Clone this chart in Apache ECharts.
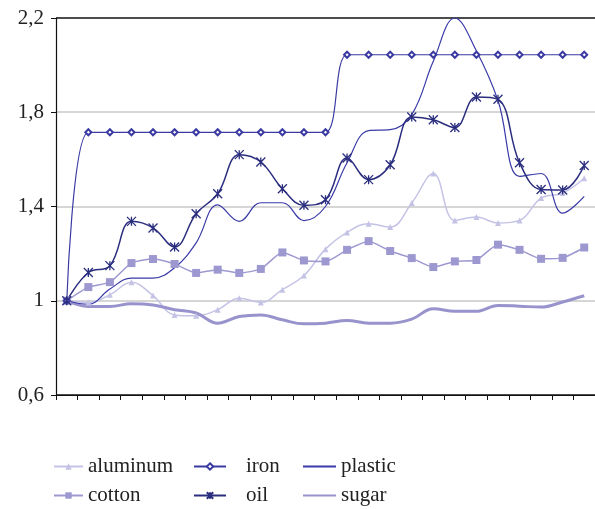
<!DOCTYPE html>
<html>
<head>
<meta charset="utf-8">
<script src="https://cdn.jsdelivr.net/npm/echarts@6/dist/echarts.min.js"></script>
<style>
  html, body { margin: 0; padding: 0; background: #fff; }
  #c1 { width: 595px; height: 509px; }
</style>
</head>
<body>
<div id="c1"></div>
<script>
var months = [];
for (var i = 0; i < 25; i++) months.push("");

var aluminum = [1.0, 0.993, 1.025, 1.078, 1.022, 0.94, 0.936, 0.962, 1.011, 0.993, 1.047, 1.107, 1.219,
  1.29, 1.327, 1.313, 1.415, 1.54, 1.341, 1.355, 1.33, 1.341, 1.436, 1.457, 1.52];
var cotton = [1.0, 1.058, 1.079, 1.16, 1.177, 1.156, 1.118, 1.132, 1.118, 1.135, 1.205, 1.171, 1.167,
  1.216, 1.253, 1.211, 1.181, 1.143, 1.167, 1.173, 1.238, 1.216, 1.178, 1.182, 1.226];
var iron = [1.0, 1.715, 1.715, 1.715, 1.715, 1.715, 1.715, 1.715, 1.715, 1.715, 1.715, 1.715, 1.715,
  2.044, 2.044, 2.044, 2.044, 2.044, 2.044, 2.044, 2.044, 2.044, 2.044, 2.044, 2.044];
var oil = [1.0, 1.12, 1.149, 1.337, 1.309, 1.228, 1.369, 1.454, 1.62, 1.589, 1.475, 1.405, 1.429,
  1.606, 1.514, 1.577, 1.78, 1.768, 1.735, 1.865, 1.855, 1.586, 1.472, 1.47, 1.574];
var plastic = [1.0, 0.985, 1.05, 1.096, 1.096, 1.14, 1.246, 1.407, 1.337, 1.416, 1.416, 1.34, 1.4,
  1.586, 1.722, 1.726, 1.79, 2.016, 2.2, 2.06, 1.85, 1.528, 1.54, 1.372, 1.443];
var sugar = [1.0, 0.976, 0.976, 0.987, 0.982, 0.962, 0.948, 0.905, 0.933, 0.94, 0.919, 0.902, 0.905,
  0.916, 0.905, 0.905, 0.922, 0.966, 0.955, 0.955, 0.98, 0.977, 0.973, 0.995, 1.021];

var cAlu = "#c4c3e6", cCot = "#9d99d0", cIron = "#3a3aa2", cOil = "#2b2e7e", cPla = "#3a3aa8", cSug = "#9893cc";
var serif = "'Liberation Serif', 'DejaVu Serif', serif";
var asterisk = "path://M0,0L10,10M10,0L0,10M5,0L5,10";

var chart = echarts.init(document.getElementById("c1"));

var legendText = { fontFamily: serif, fontSize: 21, color: "#222", lineHeight: 21 };

function legendBox(left, names, w, textPad) {
  return {
    orient: "vertical", left: left, top: 456, height: 80, width: 200,
    padding: 0, itemWidth: w, itemHeight: 8, itemGap: 8,
    textStyle: Object.assign({ padding: [0, 0, 0, textPad] }, legendText),
    data: names
  };
}

var option = {
  animation: false,
  grid: { left: 56, right: 0, top: 18, bottom: 114 },
  legend: [
    legendBox(53, [{ name: "aluminum" }, { name: "cotton" }], 29, 0),
    legendBox(193, [{ name: "iron" }, { name: "oil" }], 32, 15),
    legendBox(302, [
      { name: "plastic", itemStyle: { opacity: 0 } },
      { name: "sugar", itemStyle: { opacity: 0 } }
    ], 33, 0)
  ],
  xAxis: {
    type: "category",
    data: months,
    boundaryGap: true,
    axisLine: { lineStyle: { color: "#111", width: 1.2 } },
    axisTick: { show: true, length: 5, lineStyle: { color: "#111" } },
    axisLabel: { show: false },
    splitLine: { show: false }
  },
  yAxis: {
    type: "value",
    min: 0.6,
    max: 2.2,
    interval: 0.4,
    axisLine: { show: true, lineStyle: { color: "#111", width: 1.2 } },
    axisTick: { show: true, length: 5, lineStyle: { color: "#111" } },
    axisLabel: {
      fontFamily: serif, fontSize: 21, color: "#222", margin: 12,
      formatter: function (v) { return String(Math.round(v * 10) / 10).replace(".", ","); }
    },
    splitLine: { show: true, lineStyle: { color: ["#111", "#c8c8c8", "#c8c8c8", "#c8c8c8", "#111"], width: 1.5 } }
  },
  series: [
    {
      name: "aluminum", type: "line", data: aluminum, smooth: 0.4,
      symbol: "triangle", symbolSize: 6,
      lineStyle: { color: cAlu, width: 1.5 },
      itemStyle: { color: cAlu }
    },
    {
      name: "cotton", type: "line", data: cotton, smooth: 0.2,
      symbol: "rect", symbolSize: 8,
      lineStyle: { color: cCot, width: 1.5 },
      itemStyle: { color: cCot }
    },
    {
      name: "sugar", type: "line", data: sugar, smooth: 0.4, showSymbol: false, symbol: "none",
      lineStyle: { color: cSug, width: 3 },
      itemStyle: { color: cSug }
    },
    {
      name: "plastic", type: "line", data: plastic, smooth: 0.4, showSymbol: false, symbol: "none",
      lineStyle: { color: cPla, width: 1.2 },
      itemStyle: { color: cPla }
    },
    {
      name: "iron", type: "line", data: iron, smooth: 0.4,
      symbol: "emptyDiamond", symbolSize: 6,
      lineStyle: { color: cIron, width: 1.2 },
      itemStyle: { color: cIron, borderColor: cIron, borderWidth: 1 }
    },
    {
      name: "oil", type: "line", data: oil, smooth: 0.4,
      symbol: asterisk, symbolSize: 9,
      lineStyle: { color: cOil, width: 1.5 },
      itemStyle: { color: cOil, borderColor: cOil, borderWidth: 1.3 }
    }
  ]
};

chart.setOption(option);
</script>
</body>
</html>
